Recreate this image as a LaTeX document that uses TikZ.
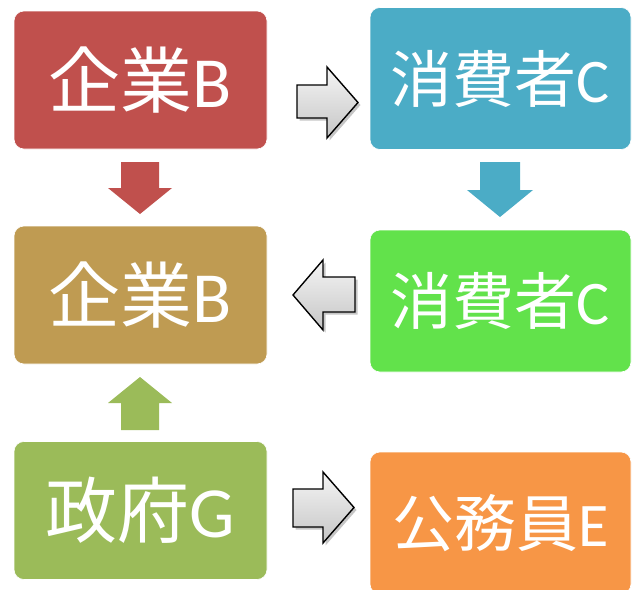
\documentclass[tikz,border=0pt]{standalone}
\usepackage{fontspec}
\setmainfont{Carlito}
\newfontfamily\cjk{Noto Sans CJK JP}
\usetikzlibrary{shadows}
\definecolor{cred}{HTML}{C0504D}
\definecolor{cteal}{HTML}{4BACC6}
\definecolor{ctan}{HTML}{BF9B52}
\definecolor{clime}{HTML}{62E24B}
\definecolor{colive}{HTML}{9BBB59}
\definecolor{corange}{HTML}{F79646}
\tikzset{
  box/.style={rounded corners=10pt, text=white, inner sep=0pt, draw=white, line width=0.6pt},
  boxL/.style={box, minimum width=253pt, minimum height=138pt},
  boxR/.style={box, minimum width=261pt, minimum height=142pt},
  big/.style={font=\fontsize{72}{72}\selectfont},
  mid/.style={font=\fontsize{62}{62}\selectfont},
  garrow/.style={draw=black, line width=1.4pt, line join=miter, top color=gray!8, bottom color=gray!45,
    drop shadow={opacity=0.45, shadow xshift=2.5pt, shadow yshift=-2.5pt}},
}
\begin{document}
\begin{tikzpicture}[x=1pt,y=-1pt]
\useasboundingbox (0,0) rectangle (633,590);
\clip (0,0) rectangle (633,590);
% boxes
\node[boxL, big, fill=cred]    (b1) at (140.5,80)  {\cjk 企業\rmfamily B};
\node[boxR, mid, fill=cteal]   (c1) at (500.5,78.5) {\cjk 消費者\rmfamily C};
\node[boxL, big, fill=ctan]    (b2) at (140.5,295) {\cjk 企業\rmfamily B};
\node[boxR, mid, fill=clime]   (c2) at (500.5,301) {\cjk 消費者\rmfamily C};
\node[boxL, big, fill=colive]  (g)  at (140.5,510.5) {\cjk 政府\rmfamily G};
\node[boxR, mid, fill=corange] (e)  at (500.5,523) {\cjk 公務員\rmfamily E};
% solid block arrows
\fill[cred]   (121,162) -- (159,162) -- (159,188) -- (172,188) -- (140,214) -- (108,188) -- (121,188) -- cycle;
\fill[cteal]  (480,162) -- (520,162) -- (520,190) -- (533,190) -- (500,217) -- (467,190) -- (480,190) -- cycle;
\fill[colive] (121,430) -- (159,430) -- (159,403) -- (172,403) -- (140,377) -- (108,403) -- (121,403) -- cycle;
% outlined gray arrows
\path[garrow] (297,85) -- (327,85) -- (327,67) -- (358,102.5) -- (327,138) -- (327,118) -- (297,118) -- cycle;
\path[garrow] (355,277) -- (323,277) -- (323,260) -- (293,295) -- (323,330) -- (323,312) -- (355,312) -- cycle;
\path[garrow] (293,489) -- (323,489) -- (323,472) -- (354,507.5) -- (323,543) -- (323,527) -- (293,527) -- cycle;
\end{tikzpicture}
\end{document}
